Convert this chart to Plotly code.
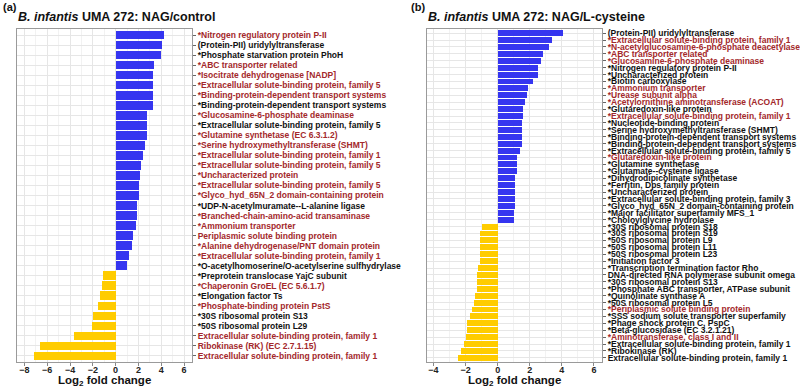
import plotly.graph_objects as go

RED = "#A3282B"
BLK = "#111111"

a_labels = [
    "*Nitrogen regulatory protein P-II",
    "(Protein-PII) uridylyltransferase",
    "*Phosphate starvation protein PhoH",
    "*ABC transporter related",
    "*Isocitrate dehydrogenase [NADP]",
    "*Extracellular solute-binding protein, family 5",
    "*Binding-protein-dependent transport systems",
    "*Binding-protein-dependent transport systems",
    "*Glucosamine-6-phosphate deaminase",
    "*Extracellular solute-binding protein, family 5",
    "*Glutamine synthetase (EC 6.3.1.2)",
    "*Serine hydroxymethyltransferase (SHMT)",
    "*Extracellular solute-binding protein, family 1",
    "*Extracellular solute-binding protein, family 5",
    "*Uncharacterized protein",
    "*Extracellular solute-binding protein, family 5",
    "*Glyco_hyd_65N_2 domain-containing protein",
    "*UDP-N-acetylmuramate--L-alanine ligase",
    "*Branched-chain-amino-acid transaminase",
    "*Ammonium transporter",
    "Periplasmic solute binding protein",
    "*Alanine dehydrogenase/PNT domain protein",
    "*Extracellular solute-binding protein, family 1",
    "*O-acetylhomoserine/O-acetylserine sulfhydrylase",
    "*Preprotein translocase YajC subunit",
    "*Chaperonin GroEL (EC 5.6.1.7)",
    "*Elongation factor Ts",
    "*Phosphate-binding protein PstS",
    "*30S ribosomal protein S13",
    "*50S ribosomal protein L29",
    "Extracellular solute-binding protein, family 1",
    "Ribokinase (RK) (EC 2.7.1.15)",
    "Extracellular solute-binding protein, family 1",
]
a_values = [4.27, 4.09, 3.98, 3.36, 3.27, 3.27, 3.27, 3.27, 2.75, 2.75,
            2.75, 2.57, 2.37, 2.25, 2.16, 2.05, 2.05, 1.84, 1.84, 1.75,
            1.55, 1.46, 1.17, 0.96,
            -1.08, -1.17, -1.37, -1.58, -1.99, -2.08, -3.68, -6.67, -7.16]
a_colors = ["r", "k", "k", "r", "r", "r", "r", "k", "r", "k",
            "r", "r", "r", "r", "r", "r", "r", "k", "r", "r",
            "r", "r", "r", "k", "k", "r", "k", "r", "k", "k",
            "r", "r", "r"]

b_labels = [
    "(Protein-PII) uridylyltransferase",
    "*Extracellular solute-binding protein, family 1",
    "*N-acetylglucosamine-6-phosphate deacetylase",
    "*ABC transporter related",
    "*Glucosamine-6-phosphate deaminase",
    "*Nitrogen regulatory protein P-II",
    "*Uncharacterized protein",
    "*Biotin carboxylase",
    "*Ammonium transporter",
    "*Urease subunit alpha",
    "*Acetylornithine aminotransferase (ACOAT)",
    "*Glutaredoxin-like protein",
    "*Extracellular solute-binding protein, family 1",
    "*Nucleotide-binding protein",
    "*Serine hydroxymethyltransferase (SHMT)",
    "*Binding-protein-dependent transport systems",
    "*Binding-protein-dependent transport systems",
    "*Extracellular solute-binding protein, family 5",
    "*Glutaredoxin-like protein",
    "*Glutamine synthetase",
    "*Glutamate--cysteine ligase",
    "*Dihydrodipicolinate synthetase",
    "*Ferritin, Dps family protein",
    "*Uncharacterized protein",
    "*Extracellular solute-binding protein, family 3",
    "*Glyco_hyd_65N_2 domain-containing protein",
    "*Major facilitator superfamily MFS_1",
    "*Choloylglycine hydrolase",
    "*30S ribosomal protein S18",
    "*30S ribosomal protein S19",
    "*50S ribosomal protein L9",
    "*50S ribosomal protein L11",
    "*50S ribosomal protein L23",
    "*Initiation factor 3",
    "*Transcription termination factor Rho",
    "DNA-directed RNA polymerase subunit omega",
    "*30S ribosomal protein S13",
    "*Phosphate ABC transporter, ATPase subunit",
    "*Quinolinate synthase A",
    "*50S ribosomal protein L5",
    "*Periplasmic solute binding protein",
    "*SSS sodium solute transporter superfamily",
    "*Phage shock protein C, PspC",
    "*Beta-glucosidase (EC 3.2.1.21)",
    "*Aminotransferase, class I and II",
    "*Extracellular solute-binding protein, family 1",
    "*Ribokinase (RK)",
    "Extracellular solute-binding protein, family 1",
]
b_values = [4.1, 3.4, 3.2, 2.8, 2.7, 2.5, 2.5, 2.2, 1.9, 1.8,
            1.7, 1.6, 1.6, 1.5, 1.5, 1.5, 1.5, 1.4, 1.2, 1.2,
            1.2, 1.1, 1.1, 1.1, 1.1, 1.1, 1.0, 1.0,
            -1.0, -1.1, -1.1, -1.1, -1.1, -1.1, -1.2, -1.3, -1.3, -1.3,
            -1.4, -1.5, -1.6, -1.7, -1.9, -1.9, -2.0, -2.1, -2.3, -2.5]
b_colors = ["k", "r", "r", "r", "r", "k", "k", "k", "r", "r",
            "r", "k", "r", "k", "k", "k", "k", "k", "r", "k",
            "k", "k", "k", "k", "k", "k", "k", "k",
            "k", "k", "k", "k", "k", "k", "k", "k", "k", "k",
            "k", "k", "r", "k", "k", "k", "r", "k", "k", "k"]

BLUE = "#3535F0"
GOLD = "#FFCC00"
GRID = "#E6E6E6"
FONT = "Liberation Sans"


def panel(fig, labels, values, colors, xa, ya):
    n = len(labels)
    ys = list(range(n))
    fig.add_trace(go.Bar(
        x=values, y=ys, orientation="h", width=0.86,
        marker=dict(color=[BLUE if v > 0 else GOLD for v in values], line=dict(width=0)),
        xaxis=xa, yaxis=ya, showlegend=False, hoverinfo="skip",
    ))
    ticktext = [f'<span style="color:{RED if c == "r" else BLK}">{t}</span>'
                for t, c in zip(labels, colors)]
    return ys, ticktext, n


fig = go.Figure()
ys_a, tt_a, na = panel(fig, a_labels, a_values, a_colors, "x", "y")
ys_b, tt_b, nb = panel(fig, b_labels, b_values, b_colors, "x2", "y2")

top = 1 - 29 / 389
bot = 1 - 362 / 389
dom_a = [17 / 800, 192 / 800]
dom_b = [427 / 800, 602 / 800]

xcommon = dict(
    automargin=False,
    tickmode="array", ticks="outside", ticklen=3, tickcolor="#888",
    ticklabelstandoff=-4,
    showline=True, linecolor="#9a9a9a", linewidth=1, mirror=True,
    showgrid=True, gridcolor=GRID, gridwidth=1, zeroline=False,
    tickfont=dict(family=FONT, size=9, color="#222", weight="bold"),
    minor=dict(dtick=1, showgrid=True, gridcolor="#F2F2F2", gridwidth=0.6),
)
ycommon = dict(
    automargin=False,
    tickmode="array", side="right", ticks="outside", ticklen=3, tickcolor="#666",
    showline=True, linecolor="#9a9a9a", linewidth=1, mirror=True,
    showgrid=True, gridcolor=GRID, gridwidth=1, zeroline=False,
    tickfont=dict(family=FONT, size=8.5, weight="bold"),
    domain=[bot, top],
)


def ann(text, x, ypx, size, xanchor="left"):
    return dict(text=text, x=x, y=1 - ypx / 389, xref="paper", yref="paper",
                xanchor=xanchor, yanchor="middle", showarrow=False,
                font=dict(family=FONT, size=size, color="#111"))


fig.update_layout(
    width=800, height=389, margin=dict(l=0, r=0, t=0, b=0),
    plot_bgcolor="white", paper_bgcolor="white", bargap=0,
    xaxis=dict(xcommon, domain=dom_a, range=[-8.65, 6.7],
               tickvals=[-8, -6, -4, -2, 0, 2, 4, 6]),
    yaxis=dict(ycommon, anchor="x", range=[na - 1 + 0.6, -0.6],
               tickvals=ys_a, ticktext=tt_a),
    xaxis2=dict(xcommon, domain=dom_b, range=[-4.4, 6.5],
                tickvals=[-4, -2, 0, 2, 4, 6], anchor="y2"),
    yaxis2=dict(ycommon, anchor="x2", range=[nb - 1 + 0.6, -0.6],
                tickvals=ys_b, ticktext=tt_b),
    annotations=[
        ann("<b>(a)</b>", 1 / 800, 7, 11),
        ann("<b><i>B. infantis</i> UMA 272: NAG/control</b>", 16 / 800, 17, 12.5),
        ann("<b>(b)</b>", 409 / 800, 7, 11),
        ann("<b><i>B. infantis</i> UMA 272: NAG/L-cysteine</b>", 426 / 800, 17, 12.5),
        ann("<b>Log<sub>2</sub> fold change</b>", sum(dom_a) / 2, 381, 11.5, "center"),
        ann("<b>Log<sub>2</sub> fold change</b>", sum(dom_b) / 2, 381, 11.5, "center"),
    ],
)

fig.write_html("out.html", post_script="document.body.style.margin='0';",
               config={"displayModeBar": False})
